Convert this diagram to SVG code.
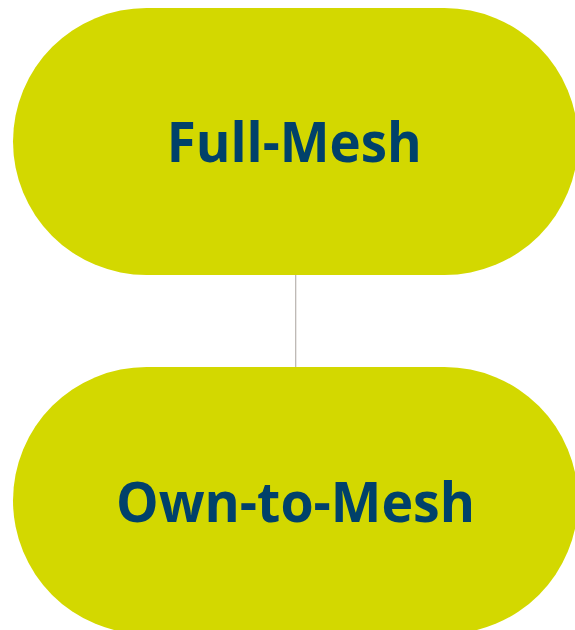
<svg xmlns="http://www.w3.org/2000/svg" width="575" height="630" viewBox="0 0 575 630">
<style>
.node{fill:#D3D800;}
.lbl{font-family:"Open Sans","Liberation Sans",sans-serif;font-weight:bold;font-size:56px;fill:#00416A;text-anchor:middle;}
.conn{stroke:#B8B3AE;stroke-width:1.2;fill:none;}
</style>
<rect width="575" height="630" fill="#FFFFFF"/>
<g id="connectors">
<line class="conn" x1="295.7" y1="275" x2="295.7" y2="367"/>
</g>
<g id="full-mesh">
<rect class="node" x="13" y="8" width="565" height="267" rx="133.5" ry="133.5"/>
<text class="lbl" x="294.2" y="162" textLength="255" lengthAdjust="spacingAndGlyphs">Full-Mesh</text>
</g>
<g id="own-to-mesh">
<rect class="node" x="13" y="367" width="565" height="267" rx="133.5" ry="133.5"/>
<text class="lbl" x="295.5" y="522" textLength="359" lengthAdjust="spacingAndGlyphs">Own-to-Mesh</text>
</g>
</svg>
